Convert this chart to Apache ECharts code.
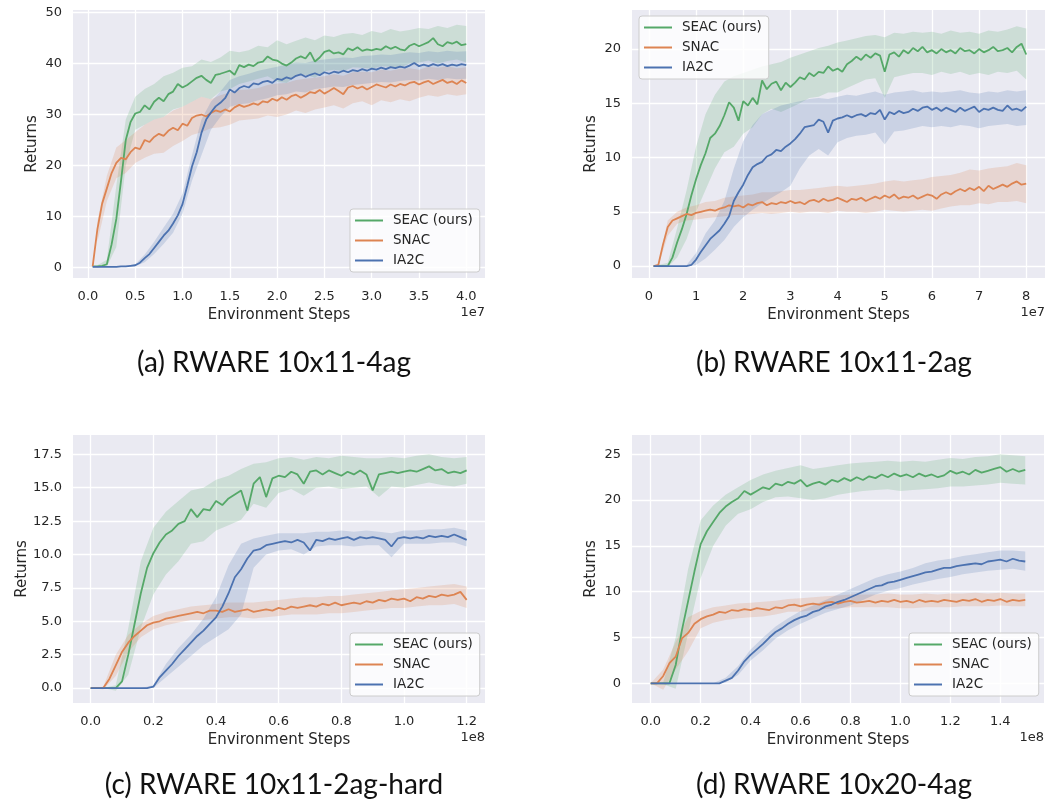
<!DOCTYPE html>
<html><head><meta charset="utf-8">
<script src="https://cdn.jsdelivr.net/npm/echarts@6/dist/echarts.min.js"></script>
<style>html,body{margin:0;padding:0;background:#fff}#c{width:1054px;height:808px}</style>
</head><body><div id="c"></div>
<script>
const SERIES_NAMES = ['SEAC (ours)', 'SNAC', 'IA2C'];
const COLORS = ['#55a868', '#dd8452', '#4c72b0'];
const CAPTIONS = ['(a) RWARE 10x11-4ag', '(b) RWARE 10x11-2ag', '(c) RWARE 10x11-2ag-hard', '(d) RWARE 10x20-4ag'];
const X_LABEL = 'Environment Steps';
const Y_LABEL = 'Returns';
const X_EXPONENTS = ['1e7', '1e7', '1e8', '1e8'];

// sampling grids (x in units of the axis exponent): [first, step, count]
const A_MEAN_GRID = [0.05, 0.05, 80], A_BAND_GRID = [0.1, 0.1, 40];
const B_MEAN_GRID = [0.1, 0.1, 80],  B_BAND_GRID = [0.2, 0.2, 40];
const C_MEAN_GRID = [0, 0.02, 61],   C_BAND_GRID = [0, 0.04, 31];
const D_MEAN_GRID = [0, 0.025, 61],  D_BAND_GRID = [0, 0.05, 31];

// tick labels
const A_XTICKS = [0, 0.5, 1, 1.5, 2, 2.5, 3, 3.5, 4], A_YTICKS = [0, 10, 20, 30, 40, 50];
const B_XTICKS = [0, 1, 2, 3, 4, 5, 6, 7, 8],          B_YTICKS = [0, 5, 10, 15, 20];
const C_XTICKS = [0, 0.2, 0.4, 0.6, 0.8, 1.0, 1.2],    C_YTICKS = [0, 2.5, 5, 7.5, 10, 12.5, 15, 17.5];
const D_XTICKS = [0, 0.2, 0.4, 0.6, 0.8, 1.0, 1.2, 1.4], D_YTICKS = [0, 5, 10, 15, 20, 25];

// ---------- (a) RWARE 10x11-4ag ----------
const A_SEAC = [0.2,0.2,0.3,0.6,4.5,9.5,17,25,28.5,30.2,
30.5,31.8,31.0,32.5,33.3,32.6,34.0,34.5,36.0,35.3,
35.8,36.5,37.2,37.6,36.8,36.2,37.8,38.0,38.3,38.6,
37.8,39.7,39.3,39.8,39.5,40.2,40.4,41.4,40.8,40.6,
40.0,39.6,40.2,41.0,41.4,41.0,42.2,40.4,41.2,42.3,
42.6,42.0,42.2,41.8,43.0,42.6,43.2,42.5,42.8,42.6,
42.9,42.7,43.4,42.9,43.3,42.8,42.6,43.5,43.9,43.4,
43.8,44.2,45.0,43.8,43.4,44.2,43.9,44.3,43.6,43.8];
const A_SEAC_HI = [0.4,1.5,16,29,33.5,35,36,37.5,38.2,39.2,39.5,40.8,40.3,41.2,42.5,42.2,42.6,43.5,43.2,44.6,43.8,44.5,45.1,44.6,45.5,45.2,45.8,46.0,45.6,46.4,46.0,46.8,46.3,46.6,47.0,46.8,47.4,47.0,47.6,47.4];
const A_SEAC_LO = [0,0.1,4,20,27,28,29,29.5,31,31.5,32.5,33.5,33,34.5,35,36,36.5,37,37.5,36.5,36.2,37.5,37.8,37.2,38.5,38.8,38.5,39.3,39.2,39.0,39.5,39.4,39.2,40.0,40.2,40.6,40.0,40.5,40.8,40.2];
const A_SNAC = [0.2,7.5,12.5,15.5,18.5,20.5,21.5,21.2,22.6,23.5,
23.2,25.0,24.6,25.6,26.2,25.8,26.8,27.4,26.9,28.2,
27.8,29.3,29.8,30.0,29.6,30.3,30.8,30.5,31.0,30.6,
31.4,31.9,31.5,31.8,32.2,31.9,32.6,32.4,33.1,32.7,
33.4,32.9,33.6,33.9,33.3,33.8,34.4,34.2,34.8,34.1,
34.6,35.2,34.6,34.0,35.3,35.6,35.1,35.5,34.9,35.4,
35.9,35.6,35.3,35.9,35.5,36.0,35.7,36.2,36.4,35.9,
36.3,36.6,36.0,36.4,36.8,36.2,36.5,36.0,36.7,36.2];
const A_SNAC_HI = [9,18,23.5,25,26.5,28,29,29.5,30.8,31.5,32.5,33.5,33,33.8,34.3,34.8,34.9,35.2,35.8,36.1,36.2,36.8,37,37.2,37.5,37.9,37.6,38.3,38.4,38.3,38.8,38.6,39,39.1,38.8,39.4,39.2,39.5,39.1,39.3];
const A_SNAC_LO = [5,13,17.5,18.5,20.5,21.5,22.3,22.5,23.8,24.8,26,26.5,27.3,27.5,28,28.8,29,29.2,29.8,29.5,30,30.8,30.3,31,31.4,31.8,31.2,32.2,32.6,31.8,32.8,32.4,33,32.6,33.3,33.8,33.5,34,33.7,34];
const A_IA2C = [0.1,0.1,0.1,0.1,0.1,0.1,0.2,0.2,0.3,0.4,
0.9,1.8,2.6,3.8,5.0,6.2,7.2,8.6,10.2,12.4,
16.0,19.8,22.6,26.4,29.0,30.4,31.6,32.3,33.2,34.9,
34.3,35.2,35.6,35.3,36.1,35.9,36.4,36.6,36.2,37.0,
36.8,37.3,37.0,37.6,37.9,37.4,37.8,38.1,37.7,38.3,
38.0,38.4,38.2,38.6,38.3,38.7,38.5,38.9,38.6,39.0,
38.8,39.2,38.9,39.3,39.1,39.4,39.2,39.6,40.1,39.5,
39.8,39.5,39.9,39.6,39.9,39.5,39.8,39.6,39.9,39.7];
const A_IA2C_HI = [0.2,0.2,0.2,0.3,0.6,2.5,5.0,7.8,10.5,14.5,22,29,32.5,34.5,36.8,37.5,38,38.6,39,39.4,39.8,40.2,40.1,40.6,40.8,41,41.2,41.1,41.5,41.6,41.8,41.7,42,42.2,42.1,42.4,42.2,42.5,42.3,42.4];
const A_IA2C_LO = [0,0,0,0.1,0.2,1.0,2.6,4.6,6.8,10.5,17,22,27,29.5,31.5,32,32.2,32.8,33.2,33.8,34,34.5,34.3,35,35.2,35.5,35.4,35.8,36,36.2,36.4,36.3,36.6,36.8,36.7,37,36.8,37.1,36.9,37];

// ---------- (b) RWARE 10x11-2ag ----------
const B_SEAC = [0.0,0.0,0.0,0.0,0.8,2.2,3.4,4.8,6.5,8.0,
9.3,10.4,11.8,12.2,12.9,13.9,15.1,14.6,13.4,15.2,
14.8,15.5,14.9,17.1,16.3,16.8,17.0,16.2,16.9,16.5,
16.9,17.4,17.2,17.8,17.5,17.9,17.8,18.4,18.0,18.2,
17.9,18.6,18.9,19.3,19.0,19.5,19.2,19.6,19.4,17.9,
19.5,19.7,19.3,19.9,19.6,20.1,19.8,20.2,19.7,19.9,
19.6,20.0,19.7,19.9,19.6,20.1,19.8,19.9,19.6,20.0,
19.7,19.9,20.2,19.8,19.9,20.1,19.7,20.2,20.5,19.5];
const B_SEAC_HI = [0.1,0.3,3.5,7,11,14,15.8,17,17.5,17.8,18.1,18.4,18.6,18.8,19.2,19.5,19.8,20.1,20.3,20.6,20.8,21.0,21.2,21.3,21.1,21.5,21.4,21.6,21.5,21.6,21.4,21.7,21.5,21.6,21.4,21.7,21.6,21.8,22.1,21.9];
const B_SEAC_LO = [-0.1,-0.1,0.8,2.5,5,7,9,10.5,11,12.2,12.8,14,14.5,14.2,14.6,15,15.5,15.6,16,16,16.4,16.8,17.2,17.3,15.5,17.4,17.6,17.8,17.8,17.6,17.9,17.7,17.9,17.6,17.8,17.6,17.9,17.8,18.0,17.2];
const B_SNAC = [0.0,0.1,2.0,3.6,4.2,4.4,4.6,4.8,4.7,4.9,
5.0,5.1,5.2,5.1,5.3,5.4,5.6,5.5,5.6,5.4,
5.7,5.6,5.8,5.9,5.6,5.8,5.7,5.9,5.8,6.0,
5.8,5.9,5.7,6.0,6.1,5.9,6.2,6.0,6.1,6.3,
6.1,5.9,6.2,6.1,6.3,6.0,6.2,6.4,6.2,6.5,
6.3,6.6,6.2,6.4,6.3,6.5,6.2,6.4,6.6,6.5,
6.2,6.6,6.8,6.6,6.9,7.1,6.9,7.2,7.0,7.3,
6.9,7.4,7.1,7.3,7.5,7.3,7.6,7.8,7.5,7.6];
const B_SNAC_HI = [0.2,4.2,5.0,5.4,5.6,5.9,6.0,6.3,6.4,6.5,6.6,6.8,6.8,6.9,7.0,7.0,7.1,7.2,7.3,7.4,7.3,7.4,7.5,7.6,7.8,7.9,7.8,7.9,8.0,8.2,8.3,8.4,8.6,8.9,8.8,9.0,9.1,9.2,9.5,9.3];
const B_SNAC_LO = [0.0,2.8,3.9,4.2,4.3,4.4,4.5,4.6,4.7,4.7,4.8,4.9,4.8,4.9,5.0,4.9,5.0,5.0,4.9,5.1,5.0,5.0,4.9,5.0,5.2,5.1,5.0,5.1,5.2,5.1,5.3,5.5,5.6,5.6,5.8,5.7,5.9,5.9,6.0,5.8];
const B_IA2C = [0,0,0,0,0,0,0,0,0.1,0.6,
1.3,1.9,2.5,2.9,3.3,3.9,4.6,6.0,6.8,7.5,
8.4,9.1,9.4,9.6,10.1,10.3,10.7,10.6,11.0,11.3,
11.7,12.2,12.8,12.9,13.0,13.5,13.3,12.3,13.4,13.6,
13.7,13.9,13.7,13.9,14.0,13.8,14.1,14.0,14.4,13.5,
14.2,14.0,14.3,14.1,14.2,14.5,14.3,14.6,14.7,14.4,
14.6,14.3,14.6,14.4,14.2,14.6,14.3,14.5,14.7,14.2,
14.5,14.4,14.6,14.4,14.3,14.8,14.4,14.5,14.3,14.7];
const B_IA2C_HI = [0,0,0,0.1,1.2,3.0,4.2,6.0,9.0,11.5,13.0,14.0,14.4,14.8,15.0,15.2,15.4,15.5,15.4,15.6,15.8,15.7,15.9,16.1,15.8,16.0,16.1,16.2,16.0,16.1,16.0,16.1,16.2,16.0,15.9,16.1,16.0,16.2,16.1,16.2];
const B_IA2C_LO = [0,0,0,0,0.1,0.7,1.5,2.4,3.6,4.5,5.2,5.8,6.3,6.8,7.4,9.0,10.2,10.8,10.2,11.4,11.8,12.0,12.1,12.3,11.2,12.4,12.5,12.7,12.9,12.8,12.9,12.8,13.0,12.9,12.7,12.9,13.0,13.1,12.9,13.0];

// ---------- (c) RWARE 10x11-2ag-hard ----------
const C_SEAC = [0,0,0,0,0,0.5,2.5,4.8,7.1,9.0,
10.1,10.9,11.5,11.8,12.3,12.5,13.4,12.8,13.4,13.3,
14.0,13.7,14.2,14.5,14.8,13.3,15.3,15.8,14.3,15.7,
15.9,15.8,16.2,16.0,15.3,16.2,16.3,16.0,16.3,16.1,
15.9,16.2,16.0,16.3,16.0,14.8,16.0,16.1,16.2,16.1,
16.2,16.3,16.2,16.4,16.6,16.3,16.4,16.1,16.2,16.1,
16.3];
const C_SEAC_HI = [0,0,0.2,4.5,9.5,12.0,13.2,14.0,14.8,15.0,15.6,15.9,16.4,16.8,16.9,17.2,17.3,17.1,17.3,17.2,17.4,17.3,17.2,17.2,17.3,17.2,17.4,17.5,17.3,17.2,17.3];
const C_SEAC_LO = [0,0,-0.2,1.0,4.5,7.0,8.5,9.5,10.8,11.0,11.8,12.2,12.6,13.8,13.5,14.6,14.9,14.4,15.0,15.1,14.9,15.0,15.1,14.3,15.1,15.0,15.2,15.4,15.2,15.1,15.3];
const C_SNAC = [0,0,0,0.7,1.7,2.7,3.4,3.9,4.3,4.7,
4.9,5.0,5.2,5.3,5.4,5.5,5.6,5.7,5.6,5.8,
5.8,5.7,5.9,5.7,5.8,5.9,5.7,5.8,5.9,5.8,
6.0,5.9,6.1,6.0,6.1,6.2,6.1,6.3,6.2,6.4,
6.2,6.3,6.4,6.3,6.5,6.4,6.6,6.5,6.7,6.6,
6.7,6.5,6.8,6.7,6.9,6.8,7.0,6.9,7.0,7.2,
6.6];
const C_SNAC_HI = [0,0.1,2.5,4.0,4.8,5.4,5.7,5.9,6.1,6.2,6.3,6.4,6.4,6.4,6.5,6.6,6.7,6.8,6.8,6.9,6.9,7.0,7.1,7.2,7.3,7.4,7.5,7.6,7.7,7.8,7.6];
const C_SNAC_LO = [0,-0.1,0.9,2.7,3.8,4.4,4.7,4.9,5.1,5.1,5.2,5.3,5.3,5.2,5.3,5.4,5.5,5.5,5.5,5.6,5.6,5.7,5.8,5.9,6.0,6.0,6.1,6.2,6.2,6.3,6.0];
const C_IA2C = [0,0,0,0,0,0,0,0,0,0,
0.1,0.8,1.3,1.8,2.4,2.9,3.4,3.9,4.3,4.8,
5.3,6.1,7.1,8.3,8.9,9.7,10.3,10.4,10.7,10.8,
10.9,11.0,10.9,11.1,10.9,10.3,11.1,11.0,11.2,11.1,
11.2,11.3,11.1,11.3,11.2,11.3,11.2,11.1,10.6,11.2,
11.3,11.2,11.3,11.2,11.4,11.3,11.4,11.3,11.5,11.3,
11.1];
const C_IA2C_HI = [0,0,0,0,0,0.2,1.8,3.0,4.0,5.2,6.8,9.2,10.8,11.2,11.4,11.6,11.6,11.6,11.7,11.7,11.8,11.7,11.8,11.7,11.6,11.8,11.8,11.9,11.9,12.0,11.8];
const C_IA2C_LO = [0,0,0,0,0,0,0.8,1.6,2.4,3.2,3.8,4.4,5.5,9.0,10.0,10.3,10.4,10.0,10.6,10.7,10.7,10.6,10.7,10.7,9.8,10.8,10.8,10.8,10.9,10.9,10.6];

// ---------- (d) RWARE 10x20-4ag ----------
const D_SEAC = [0,0,0,0,2.0,5.8,9.0,12.2,15.2,16.6,
17.6,18.6,19.3,19.8,20.2,21.0,20.6,21.0,21.4,21.2,
21.8,21.6,22.0,21.8,22.2,21.5,21.8,22.0,21.7,22.2,
22.0,22.4,22.1,22.5,22.2,22.6,22.4,22.8,22.5,22.9,
22.6,22.8,22.5,22.9,22.6,22.8,22.5,22.7,23.2,22.9,
23.1,22.8,23.3,23.0,23.2,23.4,23.6,23.1,23.4,23.1,
23.3];
const D_SEAC_HI = [0,0.1,5.0,12.5,17.8,19.4,20.6,21.4,22.2,22.8,23.2,23.5,23.8,23.4,23.6,23.8,24.0,24.1,24.2,24.3,24.2,24.3,24.2,24.4,24.6,24.5,24.7,24.8,25.0,24.9,24.8];
const D_SEAC_LO = [0,-0.1,-0.6,5.5,11.5,15.0,17.2,18.5,19.0,19.8,20.3,20.4,20.2,20.0,20.2,20.6,20.8,21.0,21.1,21.2,21.0,21.1,21.2,21.3,21.5,21.5,21.6,21.7,21.9,21.8,21.7];
const D_SNAC = [0,0,0.8,2.2,2.9,4.9,5.5,6.5,7.0,7.3,
7.5,7.8,7.7,8.0,7.9,8.1,8.0,8.2,8.1,8.0,
8.3,8.2,8.5,8.6,8.4,8.6,8.7,8.6,8.8,8.9,
8.7,8.9,9.0,8.8,8.9,9.0,8.8,9.0,8.9,9.1,
8.9,9.0,8.8,9.1,8.9,9.0,8.9,9.1,9.0,8.9,
9.1,9.0,9.2,8.9,9.1,9.0,9.2,8.9,9.1,9.0,
9.1];
const D_SNAC_HI = [0,1.5,4.5,7.2,7.9,8.3,8.5,8.7,8.8,8.9,9.0,9.2,9.3,9.4,9.5,9.6,9.7,9.7,9.7,9.8,9.7,9.7,9.8,9.7,9.8,9.8,9.9,9.8,9.9,9.8,9.8];
const D_SNAC_LO = [0,-0.7,1.5,3.5,6.0,6.6,6.9,7.1,7.2,7.3,7.5,7.8,7.8,8.0,8.1,8.2,8.3,8.3,8.3,8.3,8.2,8.2,8.3,8.3,8.3,8.4,8.4,8.4,8.5,8.4,8.4];
const D_IA2C = [0,0,0,0,0,0,0,0,0,0,0,0,
0.3,0.6,1.4,2.4,3.1,3.7,4.3,5.0,
5.6,6.0,6.5,6.9,7.2,7.4,7.8,8.0,8.4,8.6,
8.9,9.1,9.4,9.7,10.0,10.3,10.6,10.7,11.0,11.1,
11.3,11.5,11.7,11.9,12.1,12.2,12.4,12.6,12.6,12.8,
12.9,13.0,13.1,13.0,13.3,13.4,13.5,13.3,13.6,13.4,
13.3];
const D_IA2C_HI = [0,0,0,0,0,0,0.6,1.9,3.7,5.0,6.2,7.1,7.9,8.5,9.1,9.7,10.3,10.9,11.5,11.9,12.2,12.6,13.1,13.4,13.6,13.9,14.1,14.3,14.5,14.5,14.4];
const D_IA2C_LO = [0,0,0,0,0,0,0.1,0.9,2.5,3.6,4.9,5.8,6.5,7.1,7.7,8.1,8.5,9.1,9.7,10.1,10.4,10.8,11.1,11.4,11.6,11.9,12.1,12.3,12.4,12.5,12.3];

// ---------- build ----------
function steps(g) { const a = []; for (let i = 0; i < g[2]; i++) a.push(+(g[0] + i * g[1]).toFixed(4)); return a; }
function pairs(xs, ys) { return ys.map((y, i) => [xs[i], y]); }

const panels = [
  { grid: { left: 73, top: 10, width: 412, height: 268 }, xr: [-0.158, 4.198], yr: [-2.1, 50.52],
    xt: A_XTICKS, yt: A_YTICKS, xd: 1, yd: 0, mg: A_MEAN_GRID, bg: A_BAND_GRID,
    mean: [A_SEAC, A_SNAC, A_IA2C], hi: [A_SEAC_HI, A_SNAC_HI, A_IA2C_HI], lo: [A_SEAC_LO, A_SNAC_LO, A_IA2C_LO],
    legend: { left: 350, top: 209 }, cap: [274, 363] },
  { grid: { left: 632, top: 10, width: 413, height: 268 }, xr: [-0.358, 8.398], yr: [-1.1, 23.6],
    xt: B_XTICKS, yt: B_YTICKS, xd: 0, yd: 0, mg: B_MEAN_GRID, bg: B_BAND_GRID,
    mean: [B_SEAC, B_SNAC, B_IA2C], hi: [B_SEAC_HI, B_SNAC_HI, B_IA2C_HI], lo: [B_SEAC_LO, B_SNAC_LO, B_IA2C_LO],
    legend: { left: 639, top: 16 }, cap: [834, 363] },
  { grid: { left: 73, top: 435, width: 412, height: 268 }, xr: [-0.0565, 1.2585], yr: [-1.12, 18.95],
    xt: C_XTICKS, yt: C_YTICKS, xd: 1, yd: 1, mg: C_MEAN_GRID, bg: C_BAND_GRID,
    mean: [C_SEAC, C_SNAC, C_IA2C], hi: [C_SEAC_HI, C_SNAC_HI, C_IA2C_HI], lo: [C_SEAC_LO, C_SNAC_LO, C_IA2C_LO],
    legend: { left: 350, top: 633 }, cap: [274, 785] },
  { grid: { left: 632, top: 435, width: 412, height: 268 }, xr: [-0.075, 1.575], yr: [-2.15, 27.11],
    xt: D_XTICKS, yt: D_YTICKS, xd: 1, yd: 0, mg: D_MEAN_GRID, bg: D_BAND_GRID,
    mean: [D_SEAC, D_SNAC, D_IA2C], hi: [D_SEAC_HI, D_SNAC_HI, D_IA2C_HI], lo: [D_SEAC_LO, D_SNAC_LO, D_IA2C_LO],
    legend: { left: 909, top: 633 }, cap: [834, 785] }
];

const TXT = '#262626';
const FONT = 'DejaVu Sans';
const grids = [], xAxes = [], yAxes = [], series = [], legends = [], graphics = [];

panels.forEach((p, gi) => {
  grids.push(Object.assign({ show: true, backgroundColor: '#eaeaf2', borderWidth: 0 }, p.grid));
  xAxes.push({
    type: 'value', gridIndex: gi, min: p.xr[0], max: p.xr[1],
    axisLine: { show: false }, axisTick: { show: false, customValues: p.xt },
    axisLabel: { customValues: p.xt, formatter: v => v.toFixed(p.xd), color: TXT, fontFamily: FONT, fontSize: 13, margin: 12 },
    splitLine: { show: true, lineStyle: { color: '#ffffff', width: 1.3 } },
    name: X_LABEL, nameLocation: 'middle', nameGap: 30,
    nameTextStyle: { color: TXT, fontFamily: FONT, fontSize: 15 }
  });
  yAxes.push({
    type: 'value', gridIndex: gi, min: p.yr[0], max: p.yr[1],
    axisLine: { show: false }, axisTick: { show: false, customValues: p.yt },
    axisLabel: { customValues: p.yt, formatter: v => v.toFixed(p.yd), color: TXT, fontFamily: FONT, fontSize: 13, margin: 11 },
    splitLine: { show: true, lineStyle: { color: '#ffffff', width: 1.3 } },
    name: Y_LABEL, nameLocation: 'middle', nameGap: 33,
    nameTextStyle: { color: TXT, fontFamily: FONT, fontSize: 15 }
  });
  const mx = steps(p.mg), bx = steps(p.bg);
  for (let s = 0; s < 3; s++) {
    const hi = p.hi[s], lo = p.lo[s], col = COLORS[s];
    series.push({
      type: 'custom', name: SERIES_NAMES[s] + ' band ' + gi, xAxisIndex: gi, yAxisIndex: gi,
      silent: true, clip: true, z: 1,
      data: [[bx[0], lo[0]]],
      renderItem: function (params, api) {
        const pts = [];
        for (let i = 0; i < bx.length; i++) pts.push(api.coord([bx[i], hi[i]]));
        for (let i = bx.length - 1; i >= 0; i--) pts.push(api.coord([bx[i], lo[i]]));
        return { type: 'polygon', shape: { points: pts }, style: { fill: col, opacity: 0.2 } };
      }
    });
  }
  for (let s = 0; s < 3; s++) {
    series.push({
      type: 'line', name: SERIES_NAMES[s], xAxisIndex: gi, yAxisIndex: gi, z: 3,
      data: pairs(mx, p.mean[s]), showSymbol: false, symbol: 'none',
      lineStyle: { color: COLORS[s], width: 1.8 }, itemStyle: { color: COLORS[s] }
    });
  }
  legends.push({
    left: p.legend.left, top: p.legend.top, orient: 'vertical',
    data: SERIES_NAMES, icon: 'rect', itemWidth: 28, itemHeight: 2, itemGap: 6,
    selectedMode: false,
    padding: [4.5, 7, 4.5, 5],
    backgroundColor: 'rgba(255,255,255,0.8)', borderColor: '#cccccc', borderWidth: 1, borderRadius: 3,
    textStyle: { color: TXT, fontFamily: FONT, fontSize: 13.5, lineHeight: 14, padding: [0, 0, 0, 5] }
  });
  const g = p.grid;
  graphics.push({
    type: 'text', right: 1054 - (g.left + g.width), top: g.top + g.height + 28,
    style: { text: X_EXPONENTS[gi], fill: TXT, font: '13px "DejaVu Sans"' }
  });
  graphics.push({
    type: 'text', x: p.cap[0], y: p.cap[1],
    style: { text: CAPTIONS[gi], fill: '#111', font: '28px Lato', textAlign: 'center', textVerticalAlign: 'middle' }
  });
});

const chart = echarts.init(document.getElementById('c'), null, { renderer: 'canvas' });
chart.setOption({
  animation: false,
  backgroundColor: '#ffffff',
  grid: grids, xAxis: xAxes, yAxis: yAxes, series: series, legend: legends, graphic: graphics
});
</script>
</body></html>
